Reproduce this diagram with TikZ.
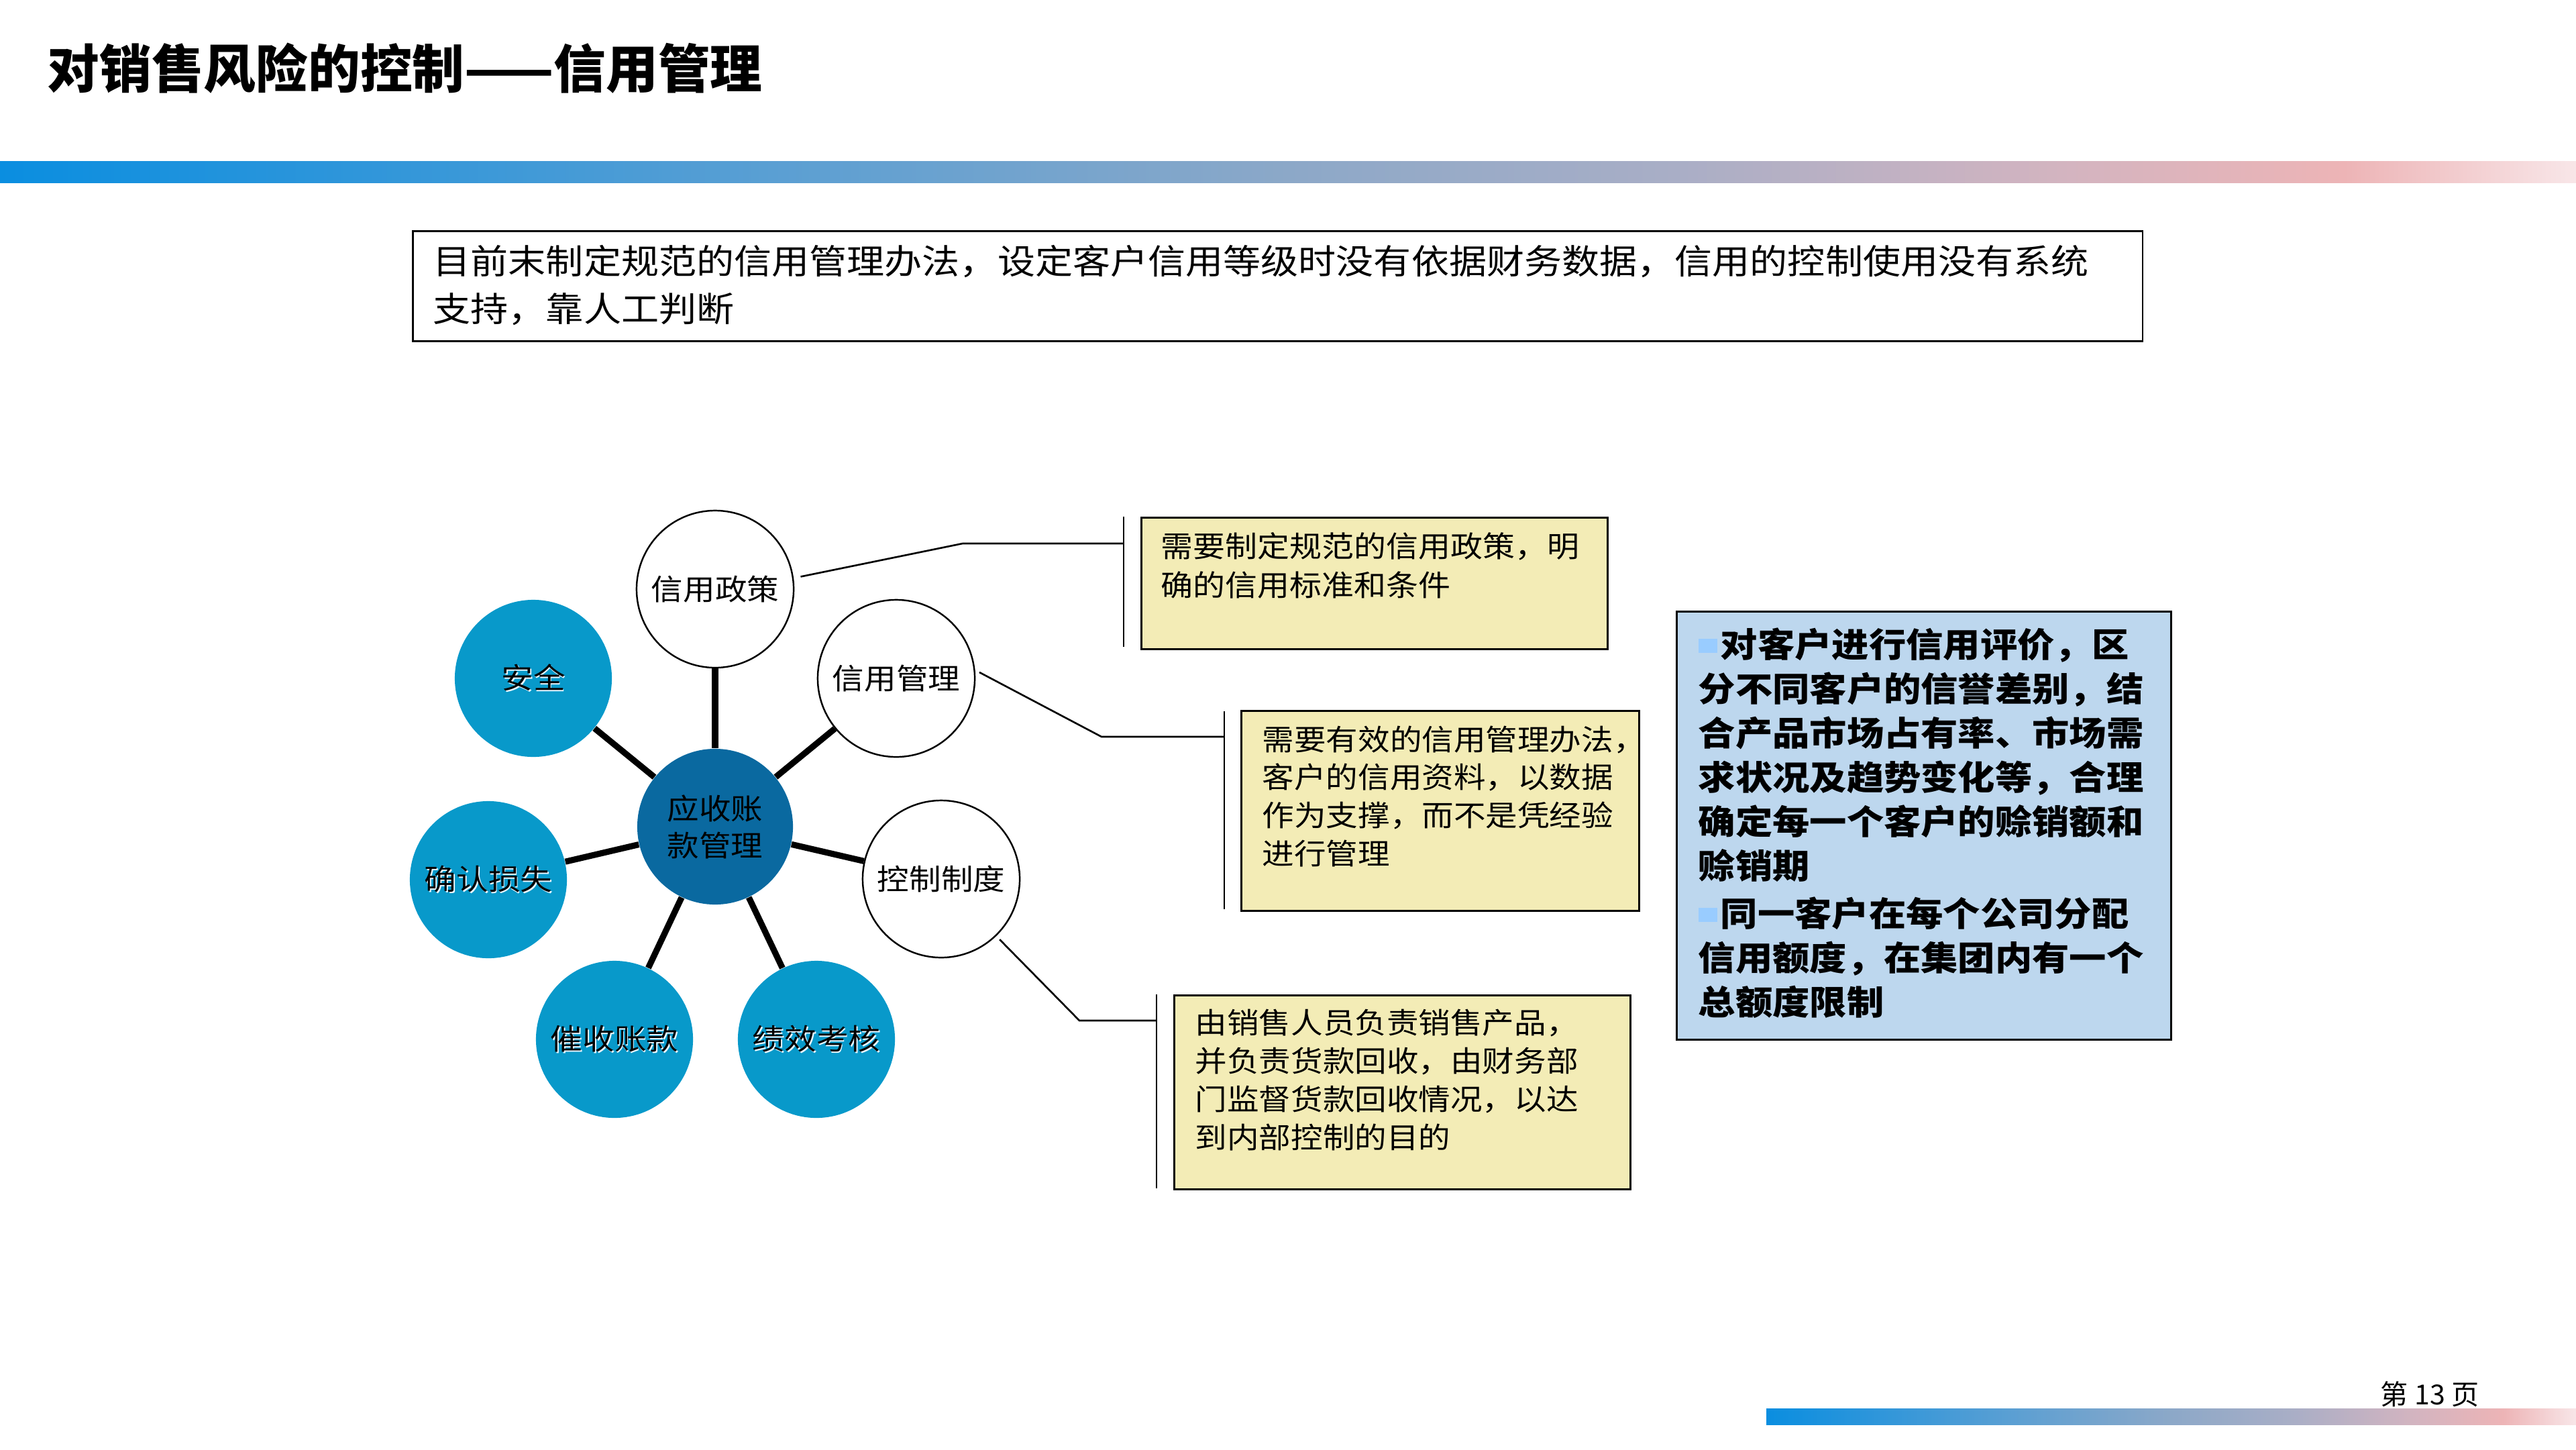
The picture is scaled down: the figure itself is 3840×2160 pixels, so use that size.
\documentclass[tikz,border=0pt]{standalone}
\usepackage{fontspec}
\setmainfont{Noto Sans CJK SC}[FakeStretch=1.1]
\newfontfamily\plainfont{Noto Sans CJK SC}
\usetikzlibrary{calc}
\definecolor{hubblue}{HTML}{0A69A0}
\definecolor{outblue}{HTML}{0899CA}
\definecolor{noteyellow}{HTML}{F3ECB6}
\definecolor{sidebg}{HTML}{BDD7EE}
\definecolor{bulletblue}{HTML}{99CCFF}
\definecolor{shadowwhite}{HTML}{E8F6FF}
\definecolor{g0}{HTML}{0A8EE0}
\definecolor{g1}{HTML}{5A9FD3}
\definecolor{g2}{HTML}{8CA8C8}
\definecolor{g3}{HTML}{A9AEC6}
\definecolor{g4}{HTML}{D3B4C0}
\definecolor{g5}{HTML}{EDB4B6}
\definecolor{g6}{HTML}{F8E6E8}
\pgfdeclarehorizontalshading{barshade}{100bp}{color(0bp)=(g0); color(25bp)=(g0); color(40bp)=(g1); color(50bp)=(g2); color(57.5bp)=(g3); color(65bp)=(g4); color(70.5bp)=(g5); color(75bp)=(g6); color(100bp)=(g6)}
\newcommand\shtext[1]{\leavevmode\rlap{\kern0.04em\raisebox{-0.04em}{\textcolor{shadowwhite}{#1}}}#1}
\newcommand\sqbullet{\textcolor{bulletblue}{\raisebox{0.12em}{\rule{0.56em}{0.42em}}}\kern0.1em}
\tikzset{
  wcirc/.style={circle, draw=black, line width=0.7pt, fill=white, minimum size=2.34cm, inner sep=0pt, font=\fontsize{12.3}{14}\selectfont},
  bcirc/.style={circle, fill=outblue, minimum size=2.34cm, inner sep=0pt, font=\fontsize{12.3}{14}\selectfont},
  hubc/.style={circle, fill=hubblue, minimum size=2.32cm, inner sep=0pt, align=center, font=\fontsize{12.3}{15.6}\selectfont},
  spoke/.style={line width=2.6pt},
  conn/.style={line width=0.75pt},
  notebox/.style={draw=black, fill=noteyellow, line width=0.8pt, anchor=north west, inner sep=0pt},
  notetext/.style={anchor=west, inner sep=0pt, align=left, font=\fontsize{12.3}{16.2}\selectfont},
}
\begin{document}
\begin{tikzpicture}[x=0.01cm, y=-0.01cm]
\useasboundingbox (0,0) rectangle (3840,2160);
% title and bars
\node[anchor=west, inner sep=0pt, font=\plainfont\bfseries\fontsize{22.1}{26}\selectfont] (title) at (70,102) {对销售风险的控制——信用管理};
\shade[shading=barshade] (0,240) rectangle (3840,272);
\shade[shading=barshade] (2633,2099) rectangle (3840,2123);
\node[inner sep=0pt, font=\plainfont\fontsize{11.7}{14}\selectfont] (page) at (3622,2078) {第 13 页};
% top statement box
\node[draw=black, line width=0.8pt, anchor=north west, inner sep=0pt, minimum width=25.77cm, minimum height=1.64cm] (topbox) at (614,343) {};
\node[anchor=west, inner sep=0pt, align=left, font=\fontsize{14.5}{20.2}\selectfont] (toptext) at (645,425.5) {目前末制定规范的信用管理办法，设定客户信用等级时没有依据财务数据，信用的控制使用没有系统\\支持，靠人工判断};
% circles
\node[hubc] (hub) at (1066,1232) {应收账\\款管理};
\node[wcirc] (pol) at (1066,878) {信用政策};
\node[wcirc] (mgmt) at (1336,1011) {信用管理};
\node[wcirc] (ctrl) at (1403,1310) {控制制度};
\node[bcirc] (safe) at (795,1011) {\shtext{安全}};
\node[bcirc] (loss) at (728,1311) {\shtext{确认损失}};
\node[bcirc] (collect) at (916,1549) {\shtext{催收账款}};
\node[bcirc] (perf) at (1217,1549) {\shtext{绩效考核}};
\foreach \t in {pol,mgmt,ctrl,safe,loss,collect,perf}{\draw[spoke] (hub) -- (\t);}
% note boxes
\node[notebox, minimum width=6.95cm, minimum height=1.96cm] (note1) at (1700,770) {};
\node[notetext, font=\fontsize{12.4}{16.5}\selectfont] (note1text) at (1730,843) {需要制定规范的信用政策，明\\确的信用标准和条件};
\node[notebox, minimum width=5.93cm, minimum height=2.98cm] (note2) at (1849,1058) {};
\node[notetext] (note2text) at (1881,1187) {需要有效的信用管理办法，\\客户的信用资料，以数据\\作为支撑，而不是凭经验\\进行管理};
\node[notebox, minimum width=6.80cm, minimum height=2.89cm] (note3) at (1749,1482) {};
\node[notetext] (note3text) at (1781,1609.5) {由销售人员负责销售产品，\\并负责货款回收，由财务部\\门监督货款回收情况，以达\\到内部控制的目的};
% brackets
\coordinate (b1t) at (1675,770); \coordinate (b1b) at (1675,964);
\coordinate (b2t) at (1825,1060); \coordinate (b2b) at (1825,1355);
\coordinate (b3t) at (1724,1482); \coordinate (b3b) at (1724,1771);
\draw[conn] (b1t) -- (b1b);
\draw[conn] (b2t) -- (b2b);
\draw[conn] (b3t) -- (b3b);
% callout connectors
\coordinate (k1) at (1435,810); \coordinate (e1) at (1675,810);
\coordinate (k2) at (1642,1098); \coordinate (e2) at (1825,1098);
\coordinate (k3) at (1609,1521); \coordinate (e3) at (1724,1521);
\draw[conn, shorten <=3pt] (pol.8) -- (k1) -- (e1);
\draw[conn, shorten <=2pt] (mgmt.6) -- (k2) -- (e2);
\draw[conn, shorten <=2pt] (ctrl.-46) -- (k3) -- (e3);
% right summary box
\node[draw=black, fill=sidebg, line width=0.8pt, anchor=north west, inner sep=0pt, minimum width=7.37cm, minimum height=6.38cm] (side) at (2498,910) {};
\node[anchor=west, inner sep=0pt, align=left, font=\bfseries\fontsize{14.3}{18.8}\selectfont] (sidetext1) at (2531,1125) {\sqbullet 对客户进行信用评价，区\\分不同客户的信誉差别，结\\合产品市场占有率、市场需\\求状况及趋势变化等，合理\\确定每一个客户的赊销额和\\赊销期};
\node[anchor=west, inner sep=0pt, align=left, font=\bfseries\fontsize{14.3}{18.8}\selectfont] (sidetext2) at (2531,1427) {\sqbullet 同一客户在每个公司分配\\信用额度，在集团内有一个\\总额度限制};
\end{tikzpicture}
\end{document}
